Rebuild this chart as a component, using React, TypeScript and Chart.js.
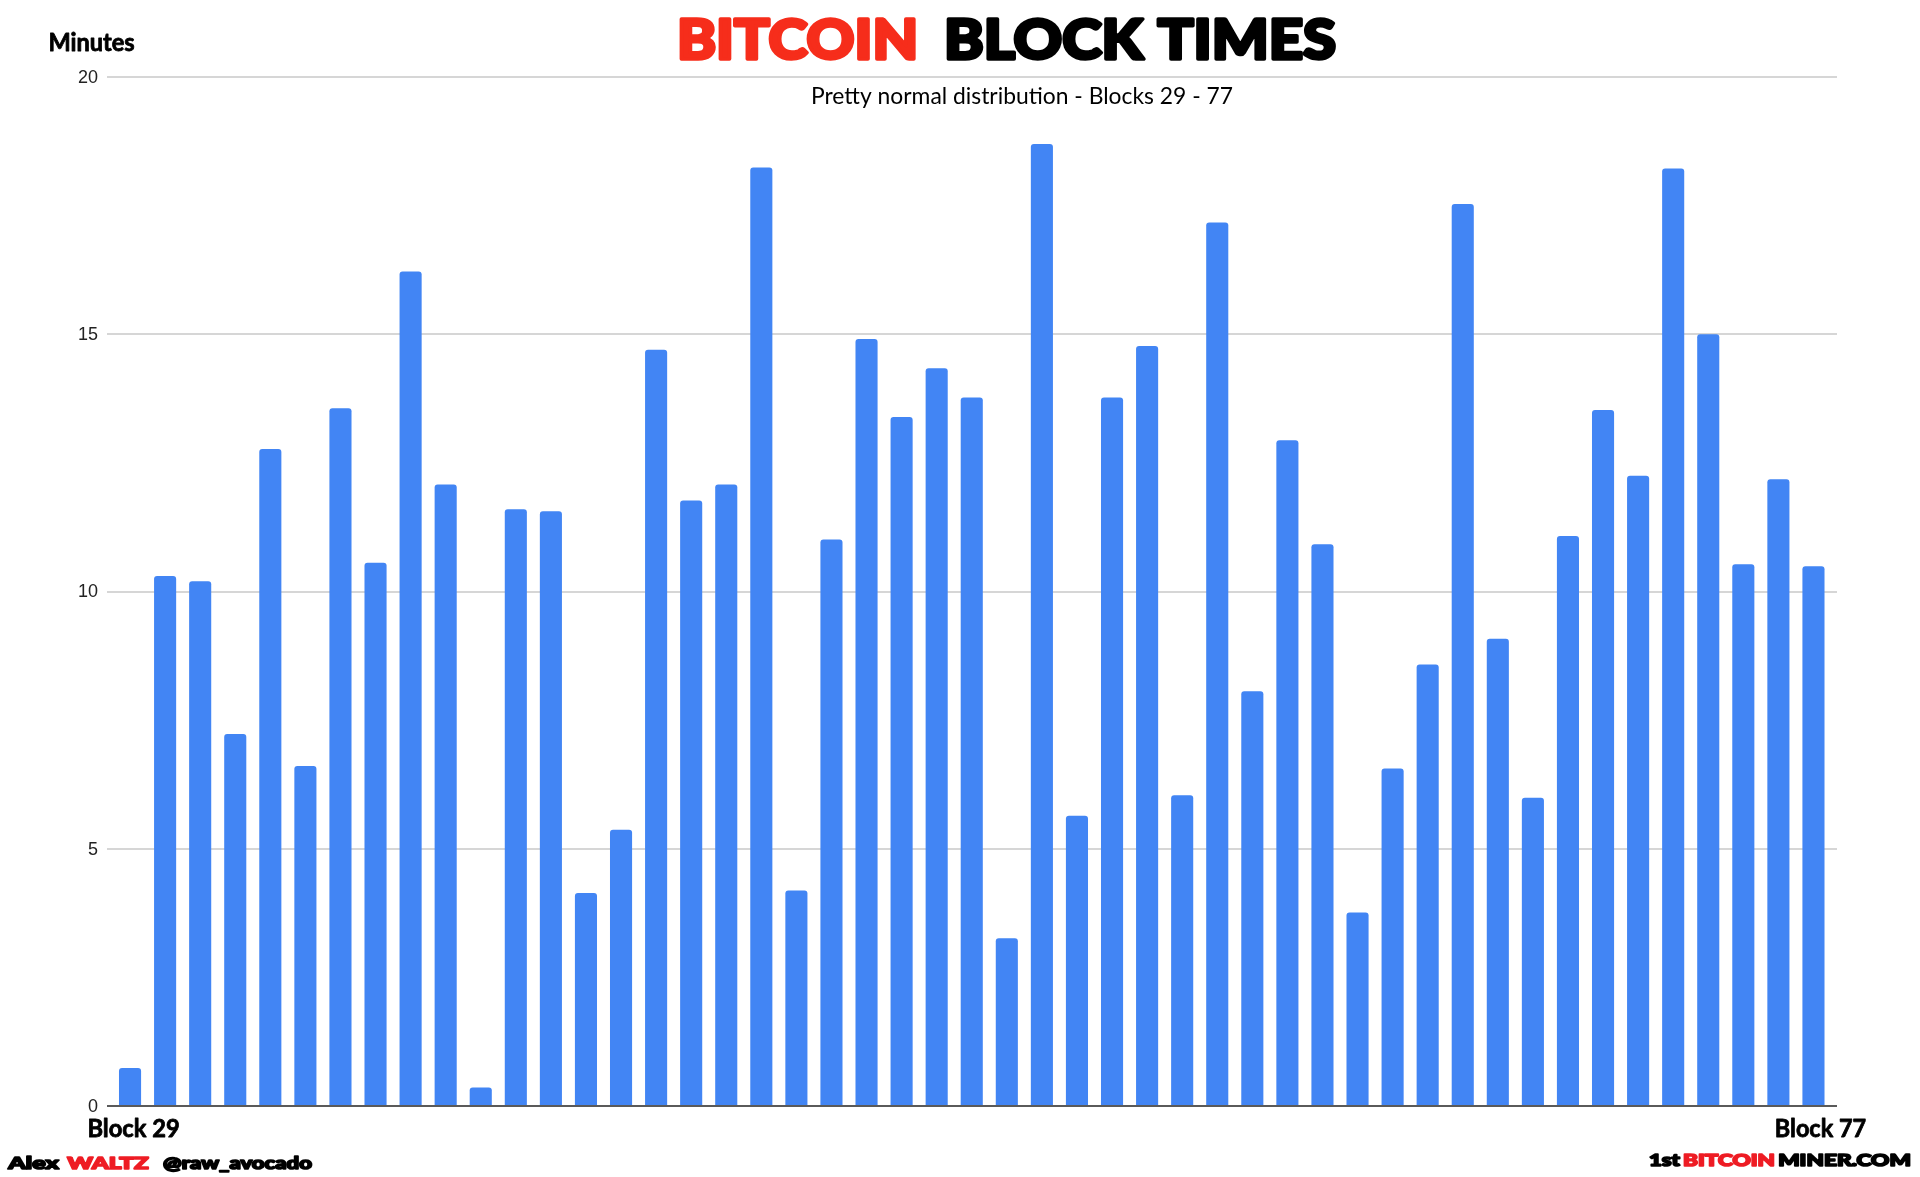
import React, { useEffect, useRef } from "react";
import { Chart, registerables } from "chart.js";

Chart.register(...registerables);

const blocks = [29, 30, 31, 32, 33, 34, 35, 36, 37, 38, 39, 40, 41, 42, 43, 44, 45, 46, 47, 48, 49, 50, 51, 52, 53, 54, 55, 56, 57, 58, 59, 60, 61, 62, 63, 64, 65, 66, 67, 68, 69, 70, 71, 72, 73, 74, 75, 76, 77];
const minutes = [0.74, 10.3, 10.2, 7.23, 12.77, 6.61, 13.56, 10.56, 16.22, 12.08, 0.36, 11.6, 11.56, 4.14, 5.37, 14.7, 11.77, 12.08, 18.24, 4.19, 11.01, 14.91, 13.39, 14.34, 13.77, 3.26, 18.7, 5.64, 13.77, 14.77, 6.04, 17.17, 8.06, 12.94, 10.92, 3.76, 6.56, 8.58, 17.53, 9.08, 5.99, 11.08, 13.53, 12.25, 18.22, 15.0, 10.53, 12.18, 10.49];
const yTicks = [0, 5, 10, 15, 20];
const firstLabel = "Block 29";
const lastLabel = "Block 77";
const titleRed = "BITCOIN";
const titleBlack = "BLOCK TIMES";
const subtitle = "Pretty normal distribution - Blocks 29 - 77";
const yAxisTitle = "Minutes";

const RED = "#F62D1B";
const FOOT_RED = "#EE1C24";
const BLUE = "#4285F4";

function fitText(ctx: CanvasRenderingContext2D, text: string, x: number, y: number, w: number, font: string, color: string, stroke = 0) {
  ctx.save();
  ctx.font = font;
  ctx.fillStyle = color;
  ctx.strokeStyle = color;
  ctx.lineJoin = "round";
  ctx.textAlign = "left";
  ctx.textBaseline = "alphabetic";
  const m = ctx.measureText(text).width + stroke;
  const sx = m > 0 ? w / m : 1;
  ctx.translate(x + (stroke / 2) * sx, y - stroke / 2);
  ctx.scale(sx, 1);
  ctx.fillText(text, 0, 0);
  if (stroke > 0) {
    ctx.lineWidth = stroke;
    ctx.strokeText(text, 0, 0);
  }
  ctx.restore();
}

const decorPlugin = {
  id: "decor",
  beforeDatasetsDraw(chart: any) {
    const ctx = chart.ctx as CanvasRenderingContext2D;
    const y = chart.scales.y;
    const area = chart.chartArea;
    ctx.save();
    ctx.strokeStyle = "#d6d6d6";
    ctx.lineWidth = 2;
    yTicks.forEach((t) => {
      if (t === 0) return;
      const py = Math.round(y.getPixelForValue(t));
      ctx.beginPath();
      ctx.moveTo(area.left - 5.5, py);
      ctx.lineTo(area.right + 6, py);
      ctx.stroke();
    });
    ctx.fillStyle = "#222";
    ctx.font = '18px "Liberation Sans", Arial, sans-serif';
    ctx.textAlign = "right";
    ctx.textBaseline = "middle";
    yTicks.forEach((t) => {
      ctx.fillText(String(t), 98, y.getPixelForValue(t) + 1);
    });
    ctx.restore();
  },
  afterDatasetsDraw(chart: any) {
    const ctx = chart.ctx as CanvasRenderingContext2D;
    const y = chart.scales.y;
    const x = chart.scales.x;
    const area = chart.chartArea;
    ctx.save();
    ctx.strokeStyle = "#5a5a5a";
    ctx.lineWidth = 2;
    const py = Math.round(y.getPixelForValue(0));
    ctx.beginPath();
    ctx.moveTo(area.left - 5.5, py);
    ctx.lineTo(area.right + 6, py);
    ctx.stroke();
    ctx.restore();

    // Title
    fitText(ctx, titleRed, 675, 61, 245, '900 55px Lato, sans-serif', RED, 3.5);
    fitText(ctx, titleBlack, 942, 61, 396, '900 55px Lato, sans-serif', "#000", 3.5);
    // Subtitle
    fitText(ctx, subtitle, 811, 104, 422, '400 24px Lato, sans-serif', "#000");
    // Y axis title
    fitText(ctx, yAxisTitle, 48, 51, 87, '700 24px Lato, sans-serif', "#000", 0.8);
    // X labels
    const x0 = x.getPixelForValue(0);
    const x1 = x.getPixelForValue(blocks.length - 1);
    fitText(ctx, firstLabel, x0 - 43, 1137, 93, '700 25px Lato, sans-serif', "#000", 0.8);
    fitText(ctx, lastLabel, x1 - 39, 1137, 92, '700 25px Lato, sans-serif', "#000", 0.8);
    // Footers
    const ff = '900 17px Lato, sans-serif';
    fitText(ctx, "Alex", 7, 1170, 53, ff, "#000", 1.6);
    fitText(ctx, "WALTZ", 66, 1170, 84, ff, FOOT_RED, 1.6);
    fitText(ctx, "@raw_avocado", 162, 1170, 151, ff, "#000", 1.6);
    const fr = '900 16px Lato, sans-serif';
    fitText(ctx, "1st", 1648, 1167, 33, fr, "#000", 1.6);
    fitText(ctx, "BITCOIN", 1682, 1167, 94, fr, FOOT_RED, 1.6);
    fitText(ctx, "MINER.COM", 1777, 1167, 135, fr, "#000", 1.6);
  },
};

export default function App() {
  const ref = useRef<HTMLCanvasElement | null>(null);
  useEffect(() => {
    document.body.style.margin = "0";
    const canvas = ref.current;
    if (!canvas) return;
    const chart = new Chart(canvas, {
      type: "bar",
      data: {
        labels: blocks.map((b) => "Block " + b),
        datasets: [
          {
            data: minutes,
            backgroundColor: BLUE,
            borderWidth: 0,
            borderRadius: { topLeft: 3, topRight: 3, bottomLeft: 0, bottomRight: 0 },
            borderSkipped: false,
            barPercentage: 0.63,
            categoryPercentage: 1,
          },
        ],
      },
      options: {
        animation: false,
        responsive: false,
        devicePixelRatio: 1,
        layout: { padding: { left: 112.5, right: 89, top: 77, bottom: 71 } },
        plugins: { legend: { display: false }, title: { display: false }, tooltip: { enabled: false } },
        scales: {
          x: { display: false, offset: true },
          y: { display: false, min: 0, max: 20 },
        },
      },
      plugins: [decorPlugin],
    });
    return () => chart.destroy();
  }, []);
  return (
    <div style={{ width: 1920, height: 1177, background: "#fff" }}>
      <canvas ref={ref} width={1920} height={1177} style={{ display: "block" }} />
    </div>
  );
}
